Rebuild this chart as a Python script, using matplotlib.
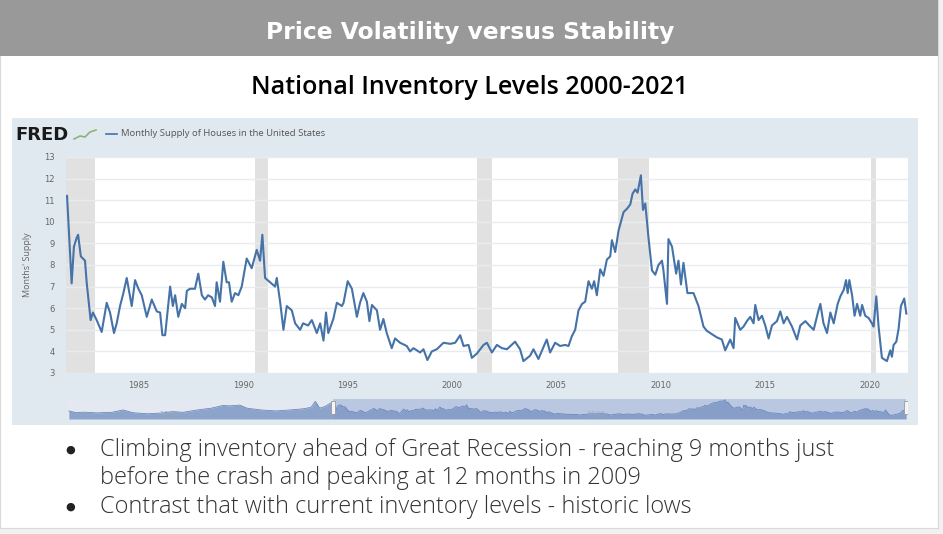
"""
Slide: national inventory levels (FRED months' supply of houses)
"""

import numpy as np
import matplotlib
matplotlib.use("Agg")
import matplotlib.pyplot as plt
from matplotlib.patches import Rectangle
from matplotlib.lines import Line2D

W, H = 943, 534

# monthly supply of houses (decimal year, months)
dates = [1981.55, 1981.77, 1981.88, 1982.01, 1982.08, 1982.21, 1982.41, 1982.49, 1982.68, 1982.79,
         1982.97, 1983.21, 1983.45, 1983.61, 1983.80, 1983.93, 1984.09, 1984.25, 1984.41, 1984.65,
         1984.81, 1984.97, 1985.13, 1985.37, 1985.61, 1985.85, 1986.01, 1986.12, 1986.25, 1986.49,
         1986.62, 1986.73, 1986.88, 1987.05, 1987.21, 1987.29, 1987.44, 1987.68, 1987.84, 1988.01,
         1988.16, 1988.31, 1988.49, 1988.64, 1988.72, 1988.88, 1989.04, 1989.20, 1989.31, 1989.44,
         1989.60, 1989.76, 1989.92, 1990.16, 1990.40, 1990.64, 1990.80, 1990.91, 1991.04, 1991.28,
         1991.52, 1991.60, 1991.76, 1991.92, 1992.08, 1992.32, 1992.48, 1992.72, 1992.86, 1993.10,
         1993.28, 1993.52, 1993.68, 1993.84, 1993.96, 1994.07, 1994.31, 1994.48, 1994.72, 1994.80,
         1995.00, 1995.20, 1995.44, 1995.59, 1995.75, 1995.92, 1996.04, 1996.16, 1996.40, 1996.55,
         1996.71, 1996.87, 1997.11, 1997.27, 1997.51, 1997.83, 1997.99, 1998.15, 1998.47, 1998.63,
         1998.82, 1999.03, 1999.27, 1999.59, 1999.91, 2000.15, 2000.39, 2000.55, 2000.79, 2000.95,
         2001.19, 2001.51, 2001.67, 2001.91, 2002.15, 2002.39, 2002.63, 2003.02, 2003.26, 2003.42,
         2003.74, 2003.90, 2004.14, 2004.38, 2004.54, 2004.70, 2004.94, 2005.18, 2005.42, 2005.58,
         2005.74, 2005.90, 2006.06, 2006.23, 2006.38, 2006.54, 2006.70, 2006.81, 2006.94, 2007.10,
         2007.26, 2007.42, 2007.58, 2007.66, 2007.82, 2007.98, 2008.22, 2008.38, 2008.54, 2008.65,
         2008.78, 2008.89, 2009.05, 2009.15, 2009.26, 2009.41, 2009.58, 2009.74, 2009.89, 2010.06,
         2010.13, 2010.30, 2010.37, 2010.54, 2010.74, 2010.85, 2010.97, 2011.09, 2011.28, 2011.57,
         2011.81, 2012.05, 2012.21, 2012.45, 2012.69, 2012.93, 2013.09, 2013.33, 2013.49, 2013.57,
         2013.81, 2013.97, 2014.13, 2014.29, 2014.45, 2014.53, 2014.69, 2014.85, 2015.01, 2015.17,
         2015.33, 2015.57, 2015.73, 2015.89, 2016.05, 2016.29, 2016.53, 2016.69, 2016.93, 2017.17,
         2017.33, 2017.56, 2017.65, 2017.80, 2017.97, 2018.13, 2018.29, 2018.48, 2018.61, 2018.77,
         2018.88, 2018.96, 2019.04, 2019.17, 2019.29, 2019.41, 2019.56, 2019.65, 2019.80, 2019.96,
         2020.12, 2020.20, 2020.33, 2020.44, 2020.60, 2020.84, 2021.00, 2021.08, 2021.16, 2021.29,
         2021.40, 2021.51, 2021.67, 2021.77]
supply = [11.2, 7.15, 8.85, 9.25, 9.4, 8.4, 8.2, 7.2, 5.45, 5.8,
          5.45, 4.9, 6.25, 5.8, 4.85, 5.3, 6.1, 6.7, 7.4, 6.1,
          7.3, 6.9, 6.6, 5.6, 6.4, 5.85, 5.8, 4.75, 4.75, 7.0,
          6.1, 6.6, 5.6, 6.2, 6.0, 6.8, 6.9, 6.9, 7.6, 6.6,
          6.4, 6.6, 6.5, 6.1, 7.2, 6.3, 8.15, 7.2, 7.2, 6.3,
          6.7, 6.6, 7.0, 8.3, 7.85, 8.7, 8.2, 9.4, 7.4, 7.2,
          7.0, 7.4, 6.3, 5.0, 6.1, 5.9, 5.3, 5.0, 5.3, 5.2,
          5.45, 4.85, 5.3, 4.5, 5.8, 4.85, 5.5, 6.25, 6.1, 6.25,
          7.25, 6.9, 5.6, 6.25, 6.7, 6.3, 5.4, 6.15, 5.9, 5.0,
          5.5, 4.85, 4.15, 4.6, 4.4, 4.25, 4.0, 4.15, 3.95, 4.1,
          3.6, 4.0, 4.1, 4.4, 4.35, 4.4, 4.75, 4.25, 4.3, 3.7,
          3.9, 4.3, 4.4, 3.95, 4.3, 4.15, 4.1, 4.45, 4.1, 3.55,
          3.8, 4.1, 3.65, 4.2, 4.55, 3.95, 4.4, 4.25, 4.3, 4.25,
          4.7, 5.0, 5.9, 6.2, 6.3, 7.25, 6.9, 7.25, 6.6, 7.8,
          7.5, 8.25, 8.4, 9.15, 8.6, 9.6, 10.45, 10.6, 10.8, 11.3,
          11.5, 11.35, 12.15, 10.55, 10.85, 9.3, 7.75, 7.55, 8.0, 8.2,
          7.75, 6.2, 9.2, 8.85, 7.6, 8.2, 7.1, 8.1, 6.7, 6.7,
          6.1, 5.15, 4.95, 4.8, 4.65, 4.55, 4.05, 4.55, 4.15, 5.55,
          5.0, 5.15, 5.4, 5.6, 5.3, 6.15, 5.45, 5.65, 5.2, 4.6,
          5.2, 5.4, 5.85, 5.3, 5.6, 5.15, 4.55, 5.2, 5.4, 5.15,
          5.0, 5.9, 6.2, 5.3, 4.85, 5.8, 5.3, 6.2, 6.55, 6.85,
          7.3, 6.7, 7.3, 6.6, 5.65, 6.2, 5.65, 6.15, 5.65, 5.55,
          5.3, 5.15, 6.55, 5.15, 3.7, 3.55, 4.05, 3.75, 4.3, 4.45,
          5.05, 6.1, 6.45, 5.75]

# older history, only visible in the navigator strip
early_dates = [1963.0, 1963.5, 1964.0, 1965.0, 1966.0, 1966.8, 1967.5, 1968.5, 1969.5, 1970.3,
               1971.0, 1972.0, 1973.0, 1973.8, 1974.3, 1975.0, 1975.5, 1976.5, 1977.5, 1978.5,
               1979.5, 1980.0, 1980.3, 1980.6, 1981.0, 1981.4]
early_supply = [6.0, 5.0, 5.3, 4.9, 5.2, 6.5, 5.0, 4.4, 4.8, 5.6,
                5.2, 6.5, 7.5, 9.0, 8.8, 9.2, 7.5, 6.5, 6.0, 6.5,
                7.2, 8.0, 11.3, 7.5, 8.5, 10.5]

recessions = [(1981.5, 1982.9), (1990.55, 1991.2), (2001.2, 2001.9), (2007.95, 2009.45), (2020.1, 2020.3)]
year_ticks = [1985, 1990, 1995, 2000, 2005, 2010, 2015, 2020]
bullets = ["Climbing inventory ahead of Great Recession - reaching 9 months just",
           "before the crash and peaking at 12 months in 2009",
           "Contrast that with current inventory levels - historic lows"]

line_col = "#4572a7"
panel_col = "#e1e9f0"


def rect(x0, y0, x1, y1):
    # pixel box -> figure fraction
    return [x0 / W, 1 - y1 / H, (x1 - x0) / W, (y1 - y0) / H]


def fx(x):
    return x / W


def fy(y):
    return 1 - y / H


fig = plt.figure(figsize=(W / 100, H / 100), dpi=100)
fig.patch.set_facecolor("#f1f1f1")

# slide body + header bar
bg = fig.add_axes(rect(0, 0, 938, 528))
bg.set_facecolor("white")
bg.set_xticks([])
bg.set_yticks([])
for s in bg.spines.values():
    s.set_color("#d9d9d9")
head = fig.add_axes(rect(0, 0, 938, 56))
head.axis("off")
head.add_patch(Rectangle((0, 0), 1, 1, transform=head.transAxes, color="#999999"))

fig.text(fx(470), fy(33), "Price Volatility versus Stability", ha="center", va="center",
         color="white", fontsize=16.8, fontweight="bold", family="DejaVu Sans")
fig.text(fx(470), fy(88), "National Inventory Levels 2000-2021", ha="center", va="center",
         color="black", fontsize=18, fontweight="semibold", family="Open Sans")

# FRED panel
panel = fig.add_axes(rect(12, 118, 918, 425))
panel.set_facecolor(panel_col)
panel.set_xticks([])
panel.set_yticks([])
for s in panel.spines.values():
    s.set_visible(False)

fig.text(fx(15), fy(135), "FRED", ha="left", va="center", fontsize=13, fontweight="heavy",
         color="#1a1a1a", family="DejaVu Sans")
fig.add_artist(Line2D([fx(74), fx(80), fx(85), fx(90), fx(96)], [fy(139), fy(136), fy(137), fy(132), fy(130)],
                      color="#8fb27a", lw=1.2))
fig.add_artist(Line2D([fx(106), fx(117)], [fy(134), fy(134)], color=line_col, lw=1.2))
fig.text(fx(121), fy(134), "Monthly Supply of Houses in the United States", ha="left", va="center",
         fontsize=6.8, color="#555555", family="Open Sans")

# main chart
ax = fig.add_axes(rect(66, 157, 908, 373))
ax.set_facecolor("white")
for a, b in recessions:
    ax.axvspan(a, b, color="#e1e1e1", lw=0, zorder=1)
ax.plot(dates, supply, color=line_col, lw=1.5, zorder=3)
ax.set_xlim(1981.5, 2021.85)
ax.set_ylim(3, 13)
ax.set_yticks(range(3, 14))
ax.set_xticks(year_ticks)
ax.grid(axis="y", color="#e8ecf0", lw=1, zorder=0)
ax.tick_params(length=0, labelsize=6, labelcolor="#666666", pad=6)
ax.tick_params(axis="y", pad=8)
for s in ax.spines.values():
    s.set_visible(False)
fig.text(fx(28), fy(265), "Months' Supply", rotation=90, ha="center", va="center",
         fontsize=6.5, color="#666666", family="Open Sans")

# navigator strip
nav = fig.add_axes(rect(66, 399, 908, 419))
nav.set_facecolor("#e4e9f1")
all_dates = early_dates + dates
all_supply = early_supply + supply
nav.axvspan(dates[0], dates[-1], color="#b9c7e0", lw=0, zorder=0)
nav.fill_between(all_dates, all_supply, 1.5, color="#7d97c4", alpha=0.85, lw=0, zorder=1)
nav.plot(all_dates, all_supply, color="#6a87bd", lw=0.6, zorder=2)
nav.set_xlim(1962.8, 2021.9)
nav.set_ylim(1.5, 12.6)
nav.set_xticks([])
nav.set_yticks([])
for s in nav.spines.values():
    s.set_visible(False)
nav.text(1970, 3.2, "1970", fontsize=5.5, color="#9aa6b8", ha="center", va="center", alpha=0.8)
nav.text(2000, 3.2, "2000", fontsize=5.5, color="#9aa6b8", ha="center", va="center", alpha=0.8)
for d in (dates[0], dates[-1]):
    nav.add_patch(Rectangle((d - 0.14, 4.0), 0.28, 7.5, facecolor="#f4f4f4", edgecolor="#999999",
                            lw=0.6, zorder=4))

# bullets
for i, (txt, y) in enumerate(zip(bullets, [450, 478, 507])):
    if i != 1:
        fig.text(fx(70), fy(y), "●", ha="center", va="center", fontsize=8, color="#222222",
                 family="DejaVu Sans")
    fig.text(fx(100), fy(y), txt, ha="left", va="center", fontsize=16.9, color="#333333",
             family="Open Sans", fontweight="light")

fig.savefig("out.png", dpi=100)
